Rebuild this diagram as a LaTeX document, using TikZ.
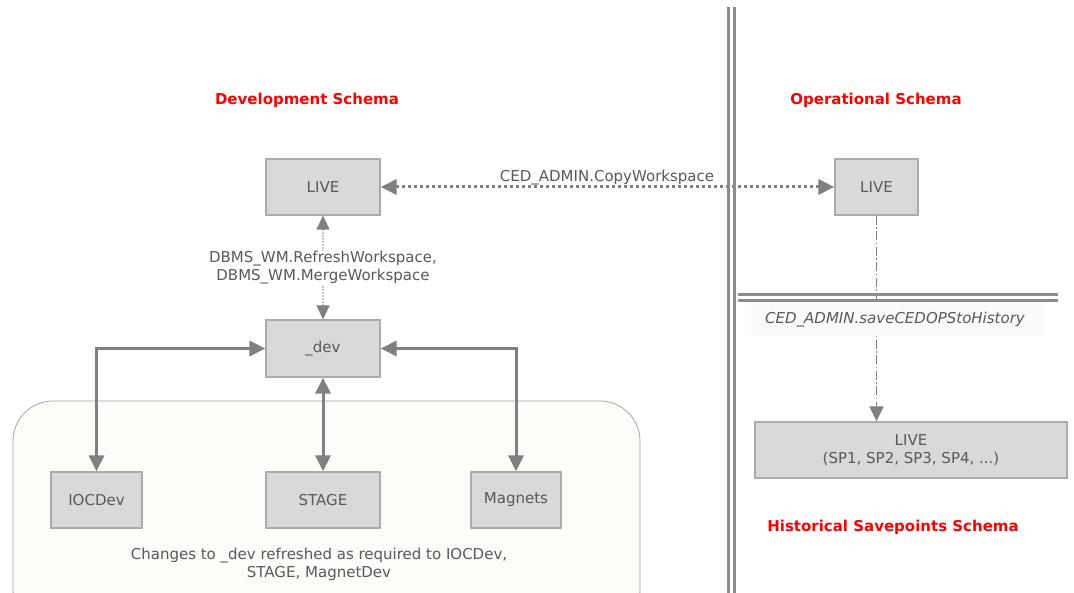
\documentclass[tikz,border=0pt]{standalone}
\usepackage{fontspec}
\setmainfont{DejaVu Sans}
\usetikzlibrary{arrows.meta}
\definecolor{boxfill}{HTML}{D9D9D9}
\definecolor{boxline}{HTML}{ABABAB}
\definecolor{txt}{HTML}{595959}
\definecolor{arr}{HTML}{808080}
\definecolor{panel}{HTML}{FDFBF8}
\definecolor{panelline}{HTML}{A8A8A8}
\definecolor{sep}{HTML}{8C8C8C}
\definecolor{lightdot}{HTML}{C4C4C4}
\tikzset{
  bigtip/.tip={Triangle[length=16pt,width=15pt]},
  midtip/.tip={Triangle[length=14pt,width=13pt,fill=arr,color=arr]}
}
\begin{document}
\begin{tikzpicture}[x=1pt,y=-1pt,
  box/.style={draw=boxline, fill=boxfill, line width=1.2pt, text=txt,
    font=\fontsize{15}{18}\selectfont, inner sep=0pt, align=center},
  title/.style={text=red, font=\bfseries\fontsize{15}{18}\selectfont},
  lbl/.style={text=txt, font=\fontsize{15}{18}\selectfont, align=center, inner sep=1pt},
  thickarrow/.style={draw=arr, line width=3pt, bigtip-bigtip},
  sepline/.style={draw=sep, line width=2.5pt}
]
\useasboundingbox (0,0) rectangle (1074,593);
\fill[white] (0,0) rectangle (1074,593);

% panel
\draw[draw=panelline, fill=panel, line width=0.8pt, rounded corners=40pt] (13,401) rectangle (640,630);
\node[lbl] (note) at (319,564) {Changes to \_dev refreshed as required to IOCDev,\\STAGE, MagnetDev};

% titles
\node[title] (tdev) at (307,100) {Development Schema};
\node[title] (tops) at (876,100) {Operational Schema};
\node[title] (thist) at (893,527) {Historical Savepoints Schema};

% boxes
\node[box, minimum width=114pt, minimum height=56pt] (devlive) at (323,187) {LIVE};
\node[box, minimum width=83pt, minimum height=56pt] (opslive) at (876.5,187) {LIVE};
\node[box, minimum width=114pt, minimum height=57pt] (dev) at (323,348.5) {\_dev};
\node[box, minimum width=91pt, minimum height=56pt] (ioc) at (96.5,500) {IOCDev};
\node[box, minimum width=114pt, minimum height=56pt] (stage) at (323,500) {STAGE};
\node[box, minimum width=90pt, minimum height=56pt] (mag) at (516,500) {Magnets};
\node[box, minimum width=312pt, minimum height=56pt] (hist) at (911,450) {LIVE\\(SP1, SP2, SP3, SP4, ...)};

% thick arrows
\draw[thickarrow] (dev.west) -| (ioc.north);
\draw[thickarrow] (dev.south) -- (stage.north);
\draw[thickarrow] (dev.east) -| (mag.north);

% refresh / merge
\draw[draw=lightdot, line width=1.2pt, dash pattern=on 1.5pt off 1.5pt, midtip-midtip]
  (devlive.south) -- (dev.north);
\node[lbl, fill=white] (rm) at (323,268) {DBMS\_WM.RefreshWorkspace,\\DBMS\_WM.MergeWorkspace};

% copy workspace
\draw[draw=arr, line width=3pt, dash pattern=on 3pt off 3pt, bigtip-bigtip]
  (devlive.east) -- (opslive.west);
\node[lbl, anchor=south] (cw) at (607,186) {CED\_ADMIN.CopyWorkspace};

% save to history
\draw[draw=arr, line width=1.3pt, dash pattern=on 9pt off 2.5pt on 1.5pt off 2.5pt,
  -{Triangle[length=15pt,width=14pt]}] (opslive.south) -- (opslive.south |- hist.north);

% separators
\draw[sepline] (728.5,7) -- (728.5,593);
\draw[sepline] (734.5,7) -- (734.5,593);
\draw[sepline] (738,294.5) -- (1058,294.5);
\draw[sepline] (738,300.5) -- (1058,300.5);

\node[lbl, fill=white!98!black, minimum width=300pt, minimum height=33pt, font=\itshape\fontsize{15}{18}\selectfont] (save) at (895,320) {CED\_ADMIN.saveCEDOPStoHistory};
\end{tikzpicture}
\end{document}
